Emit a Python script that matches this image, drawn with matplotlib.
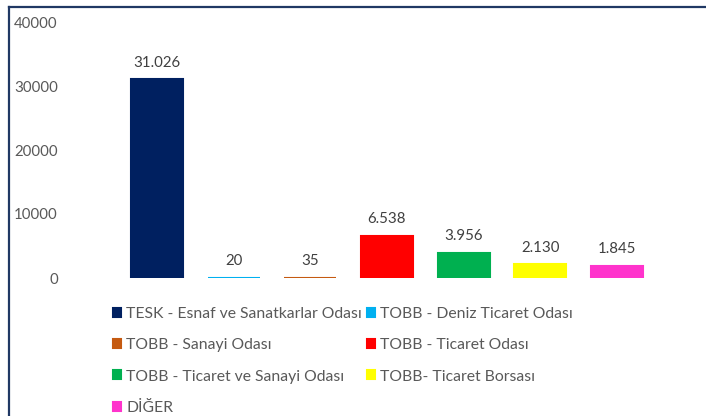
import matplotlib.pyplot as plt
from matplotlib.lines import Line2D

plt.rcParams['font.family'] = ['Lato', 'DejaVu Sans']

# data
categories = ['TESK - Esnaf ve Sanatkarlar Odası', 'TOBB - Deniz Ticaret Odası',
              'TOBB - Sanayi Odası', 'TOBB - Ticaret Odası',
              'TOBB - Ticaret ve Sanayi Odası', 'TOBB- Ticaret Borsası', 'DİĞER']
values = [31026, 20, 35, 6538, 3956, 2130, 1845]
colors = ['#002060', '#00B0F0', '#C55A11', '#FF0000', '#00B050', '#FFFF00', '#FF33CC']
yticks = [0, 10000, 20000, 30000, 40000]

W, H = 706, 416
fig = plt.figure(figsize=(W / 100, H / 100), dpi=100)
ax = fig.add_axes([119 / W, 1 - 278 / H, 536 / W, 256 / H])

bars = []
for i, (cat, v, c) in enumerate(zip(categories, values, colors)):
    b = ax.bar(i, v, width=0.68, color=c, edgecolor=c, linewidth=1.5, label=cat)
    bars.append(b)
    ax.bar_label(b, labels=[f"{v:,}".replace(",", ".")], padding=7,
                 fontsize=10.8, color='#404040')

ax.set_xlim(-0.5, len(values) - 0.5)
ax.set_ylim(0, 40000)
ax.set_yticks(yticks)
ax.set_yticklabels([str(t) for t in yticks])
ax.set_xticks([])
ax.tick_params(axis='y', length=0, pad=44, labelsize=10.8, labelcolor='#595959')
for s in ax.spines.values():
    s.set_visible(False)

# legend, row order like excel
order = [0, 2, 4, 6, 1, 3, 5]
leg = fig.legend([bars[i] for i in order], [categories[i] for i in order],
                 ncol=2, loc='upper left', bbox_to_anchor=(113 / W, 1 - 307 / H),
                 frameon=False, fontsize=11.3, labelcolor='#595959',
                 handlelength=0.5, handleheight=0.5, handletextpad=0.35,
                 labelspacing=1.1, columnspacing=0.3, borderaxespad=0, borderpad=0)

# chart frame (left and top edges visible)
fig.add_artist(Line2D([9 / W, 9 / W], [0, 1 - 7 / H], color='#203864', lw=1.6))
fig.add_artist(Line2D([9 / W, 1], [1 - 7 / H, 1 - 7 / H], color='#203864', lw=1.6))

fig.savefig('out.png', dpi=100)
